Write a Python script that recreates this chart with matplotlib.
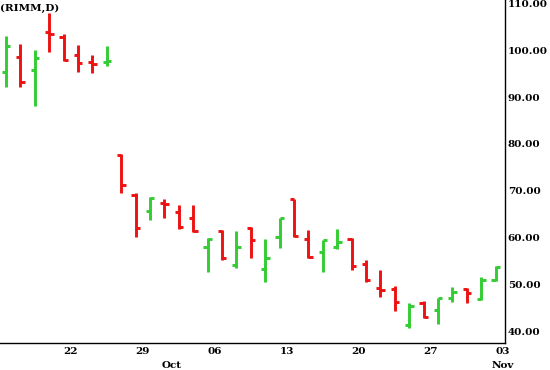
import matplotlib
matplotlib.use("Agg")
import matplotlib.pyplot as plt

# Daily OHLC, RIMM, 16 Sep 2008 .. 03 Nov 2008 (trading days)
opens  = [95.3, 98.5, 95.8, 103.9, 102.8, 99.0, 97.5, 97.5,
          77.6, 69.1, 65.6, 67.4, 65.4, 64.1, 57.9, 61.4, 54.1, 62.0,
          53.2, 60.1, 68.2, 59.7, 56.9, 57.9, 59.7, 54.3, 49.2, 49.0,
          41.3, 46.0, 44.5, 47.1, 49.0, 46.8, 50.9]
highs  = [103.0, 101.3, 100.0, 107.9, 103.5, 101.1, 99.0, 100.9,
          77.8, 69.5, 68.6, 68.2, 66.9, 66.9, 59.9, 61.6, 61.4, 62.2,
          59.7, 64.1, 68.2, 61.6, 59.4, 61.8, 59.9, 55.2, 53.0, 49.6,
          46.0, 46.4, 47.1, 49.4, 49.2, 51.5, 53.9]
lows   = [92.1, 92.1, 88.1, 99.6, 97.7, 95.3, 95.1, 96.6,
          69.5, 60.1, 63.7, 64.1, 61.8, 61.2, 52.6, 55.2, 53.5, 55.6,
          50.5, 57.7, 60.1, 55.6, 52.6, 57.5, 53.0, 50.5, 47.3, 44.3,
          40.6, 42.8, 41.5, 46.2, 46.0, 46.6, 50.7]
closes = [100.9, 93.2, 98.3, 103.5, 97.9, 97.3, 97.0, 97.7,
          71.2, 62.0, 68.4, 67.1, 62.2, 61.4, 59.7, 55.6, 57.9, 59.4,
          55.6, 64.1, 60.3, 55.8, 59.4, 59.0, 53.9, 50.9, 48.8, 46.2,
          45.3, 43.0, 47.1, 48.3, 48.1, 50.9, 53.7]

week_tick_index = [4, 9, 14, 19, 24, 29, 34]
week_tick_labels = ["22", "29", "06", "13", "20", "27", "03"]
month_index = [11, 34]
month_labels = ["Oct", "Nov"]
y_ticks = [40, 50, 60, 70, 80, 90, 100, 110]
title = "(RIMM,D)"

GREEN = "#33cc33"
RED = "#ee1111"

W, H = 550, 370
fig = plt.figure(figsize=(W / 100, H / 100), dpi=100)
ax = fig.add_axes([0, 1 - 343 / H, 505 / W, 343 / H])
ax.set_xlim(-0.42, 34.65)
ax.set_ylim(37.44, 110.73)

lw = 2.1
tick = 0.3
for i, (o, h, l, c) in enumerate(zip(opens, highs, lows, closes)):
    col = GREEN if c >= o else RED
    ax.vlines(i, l, h, color=col, lw=lw, capstyle="butt")
    ax.hlines(o, i - tick, i, color=col, lw=lw, capstyle="butt")
    ax.hlines(c, i, i + tick, color=col, lw=lw, capstyle="butt")

for s in ["left", "top"]:
    ax.spines[s].set_visible(False)
ax.spines["right"].set_linewidth(1.0)
ax.spines["bottom"].set_linewidth(1.0)

font = dict(family="DejaVu Serif", fontweight="bold", fontsize=7.5)

ax.yaxis.tick_right()
ax.set_yticks(y_ticks)
ax.set_yticklabels([f"{v:.2f}" for v in y_ticks], **font)
ax.tick_params(axis="y", length=0, pad=2)

ax.set_xticks([i + 0.5 for i in week_tick_index])
ax.set_xticklabels(week_tick_labels, **font)
ax.tick_params(axis="x", length=0, pad=3)

for i, lab in zip(month_index, month_labels):
    ax.text(i + 0.5, -0.065, lab, transform=ax.get_xaxis_transform(),
            ha="center", va="center", **font)

fig.text(0.0, 1 - 8 / H, title, ha="left", va="center", **font)

fig.savefig("out.png", dpi=100)
